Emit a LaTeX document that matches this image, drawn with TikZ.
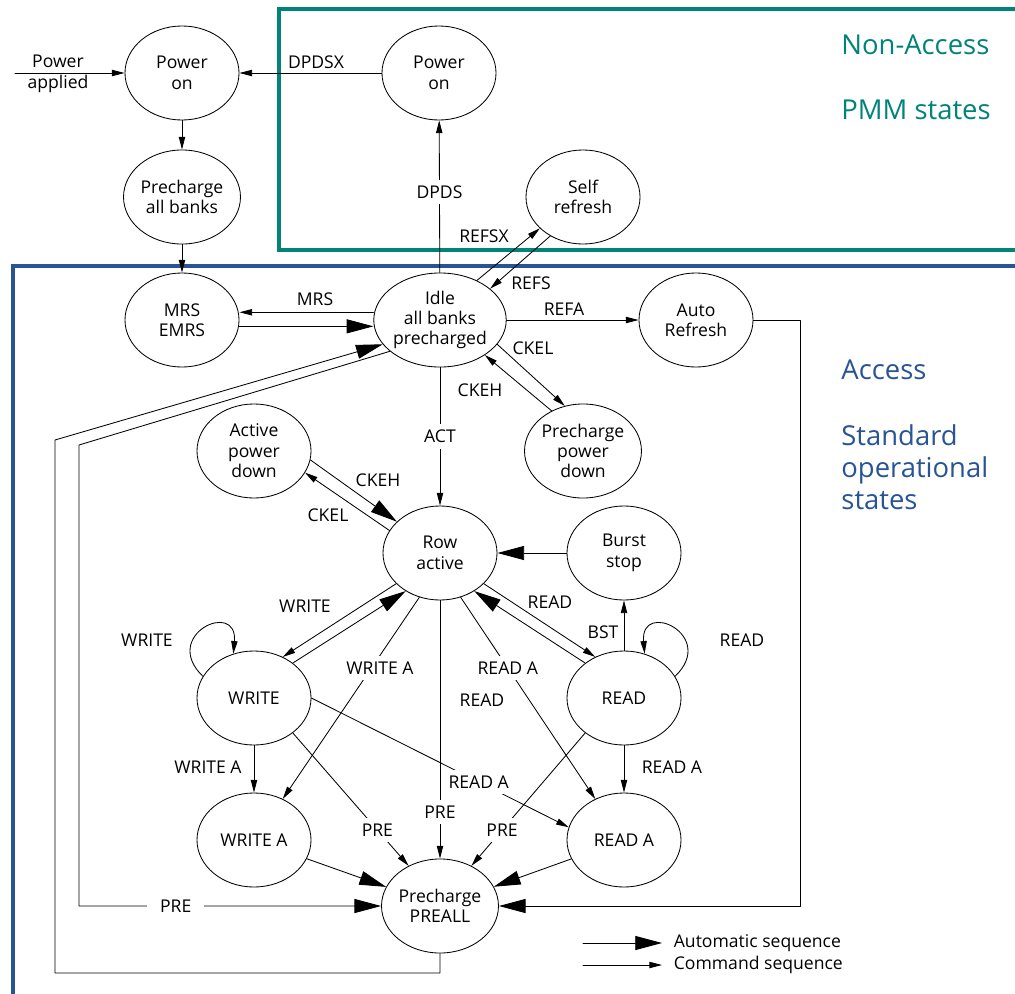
\documentclass[tikz,border=0pt]{standalone}
\usepackage{fontspec}
\setmainfont{Open Sans}
\usetikzlibrary{shapes.geometric,arrows.meta}
\definecolor{pmmteal}{RGB}{0,131,120}
\definecolor{accblue}{RGB}{40,84,150}
\begin{document}
\begin{tikzpicture}[x=0.025cm,y=-0.025cm,line join=round,line cap=round,line width=0.6pt]
	\tikzset{every node/.style={font=\fontsize{12.5}{14.5}\selectfont,align=center},
		state/.style={draw,ellipse,minimum width=2.85cm,minimum height=2.35cm,inner sep=0pt},
		lbl/.style={inner sep=1pt},
		onl/.style={fill=white,inner xsep=5pt,inner ysep=4pt},
		cmdarr/.style={-{Triangle[length=9pt,width=4.5pt]}},
		autoarr/.style={-{Triangle[length=19pt,width=10pt]}},
		big/.style={font=\fontsize{19.5}{22.7}\selectfont,align=left,anchor=west,inner sep=0pt}}
	\useasboundingbox (0,0) rectangle (1015,994);
	% the two regions
	\draw[pmmteal,line width=2.8pt,line join=miter,line cap=butt] (1030,9)--(279,9)--(279,250)--(1030,250);
	\draw[accblue,line width=3pt,line join=miter,line cap=butt] (1030,266)--(13,266)--(13,1010);
	\node[big,pmmteal] (tna) at (841,45) {Non-Access};
	\node[big,pmmteal] (tpmm) at (841,110) {PMM states};
	\node[big,accblue] (tacc) at (841,370) {Access};
	\node[big,accblue] (tstd) at (841,467) {Standard\\operational\\states};
	% states
	\node[state] (pon) at (182,73) {Power\\on};
	\node[state] (dpd) at (439,73) {Power\\on};
	\node[state] (pab) at (182,197) {Precharge\\all banks};
	\node[state] (sref) at (583,197) {Self\\refresh};
	\node[state] (mrs) at (182,320) {MRS\\EMRS};
	\node[state] (idle) at (440,320) {Idle\\all banks\\precharged};
	\node[state] (aref) at (696,320) {Auto\\Refresh};
	\node[state] (apd) at (254,451) {Active\\power\\down};
	\node[state] (ppd) at (583,451) {Precharge\\power\\down};
	\node[state] (row) at (440,553) {Row\\active};
	\node[state] (bst) at (624,553) {Burst\\stop};
	\node[state] (wr) at (254,698) {WRITE};
	\node[state] (rd) at (624,698) {READ};
	\node[state] (wra) at (254,840) {WRITE A};
	\node[state] (rda) at (624,840) {READ A};
	\node[state] (pre) at (440,906) {Precharge\\PREALL};
	% power up
	\coordinate (pin) at (15,73);
	\draw[cmdarr] (pin)--(pon.west);
	\node (tpa) at (58,74) {Power\\applied};
	\draw[cmdarr] (dpd.west)--(pon.east);
	\node[lbl] (tdpdsx) at (316,62) {DPDSX};
	\draw[cmdarr] (pon)--(pab);
	\draw[cmdarr] (pab)--(mrs);
	% idle
	\draw[cmdarr] (idle)-- node[onl,pos=.53]{DPDS} (dpd);
	\draw[cmdarr] (idle.47)--(sref.216);
	\draw[cmdarr] (sref.230)--(idle.32);
	\node[lbl] (trefsx) at (484,236) {REFSX};
	\node[lbl] (trefs) at (531,283) {REFS};
	\draw[cmdarr] ([yshift=5.5pt]idle.west)--([yshift=5.5pt]mrs.east);
	\draw[autoarr] ([yshift=-4.5pt]mrs.east)--([yshift=-4.5pt]idle.west);
	\node[lbl] (tmrs) at (315,299) {MRS};
	\draw[cmdarr] (idle)--(aref);
	\node[lbl] (trefa) at (564,309) {REFA};
	\draw[cmdarr] (idle.337)--(ppd.112);
	\draw[cmdarr] (ppd.128)--(idle.322);
	\node[lbl] (tckel) at (533,348) {CKEL};
	\node[lbl] (tckeh) at (480,390) {CKEH};
	\draw[cmdarr] (idle)-- node[onl,pos=.5]{ACT} (row);
	% row active
	\draw[autoarr] (apd.-9)--(row.144);
	\draw[cmdarr] (row.156)--(apd.-23);
	\node[lbl] (tckeh2) at (378,480) {CKEH};
	\node[lbl] (tckel2) at (328,515) {CKEL};
	\draw[autoarr] (bst)--(row);
	\draw[cmdarr] (row.215)--(wr.55);
	\draw[autoarr] (wr.42)--(row.228);
	\node[lbl] (twr) at (305,606) {WRITE};
	\draw[cmdarr] (row.325)--(rd.125);
	\draw[autoarr] (rd.138)--(row.312);
	\node[lbl] (trd) at (550,602) {READ};
	\draw[cmdarr] (row.245)-- node[onl,pos=.35,xshift=6pt]{WRITE A} (wra.55);
	\draw[cmdarr] (row.295)-- node[onl,pos=.35]{READ A} (rda.125);
	\node[lbl] (trd2) at (482,700) {READ};
	\draw[cmdarr] (row)-- node[onl,pos=.82]{PRE} (pre);
	% write and read
	\draw[cmdarr] (wr.157) .. controls (160,635) and (238,599) .. (wr.115);
	\node[lbl] (twrl) at (147,640) {WRITE};
	\draw[cmdarr] (rd.23) .. controls (718,635) and (640,599) .. (rd.65);
	\node[lbl] (trdl) at (742,640) {READ};
	\draw[cmdarr] (rd)--(bst);
	\node[lbl] (tbst) at (603,632) {BST};
	\draw[cmdarr] (wr)--(wra);
	\node[lbl] (twra) at (208,767) {WRITE A};
	\draw[cmdarr] (rd)--(rda);
	\node[lbl] (trda) at (672,767) {READ A};
	\draw[cmdarr] (wr.east)-- node[onl,pos=.65]{READ A} (rda.167);
	\draw[cmdarr] (wr.318)-- node[onl,pos=.73]{PRE} (pre.128);
	\draw[cmdarr] (rd.222)-- node[onl,pos=.73]{PRE} (pre.52);
	\draw[autoarr] (wra)--(pre);
	\draw[autoarr] (rda)--(pre);
	% long ways round
	\coordinate (rtc) at (800,320);
	\draw[autoarr] (aref.east)--(rtc) |- (pre.east);
	\coordinate (lo) at (55,440);
	\coordinate (bot) at (55,973);
	\coordinate (li) at (79,445);
	\draw[autoarr] (pre.south) |- (bot)--(lo)--(idle.203);
	\draw[autoarr] (idle.212)--(li) |- node[onl,pos=.66,inner xsep=9pt]{PRE} (pre.west);
	% legend
	\coordinate (la1) at (583,943);
	\coordinate (la2) at (662,943);
	\coordinate (lc1) at (583,965);
	\coordinate (lc2) at (662,965);
	\draw[autoarr] (la1)--(la2);
	\draw[cmdarr] (lc1)--(lc2);
	\node[lbl,anchor=west] (tla) at (672,943) {Automatic sequence};
	\node[lbl,anchor=west] (tlc) at (672,965) {Command sequence};
\end{tikzpicture}
\end{document}
